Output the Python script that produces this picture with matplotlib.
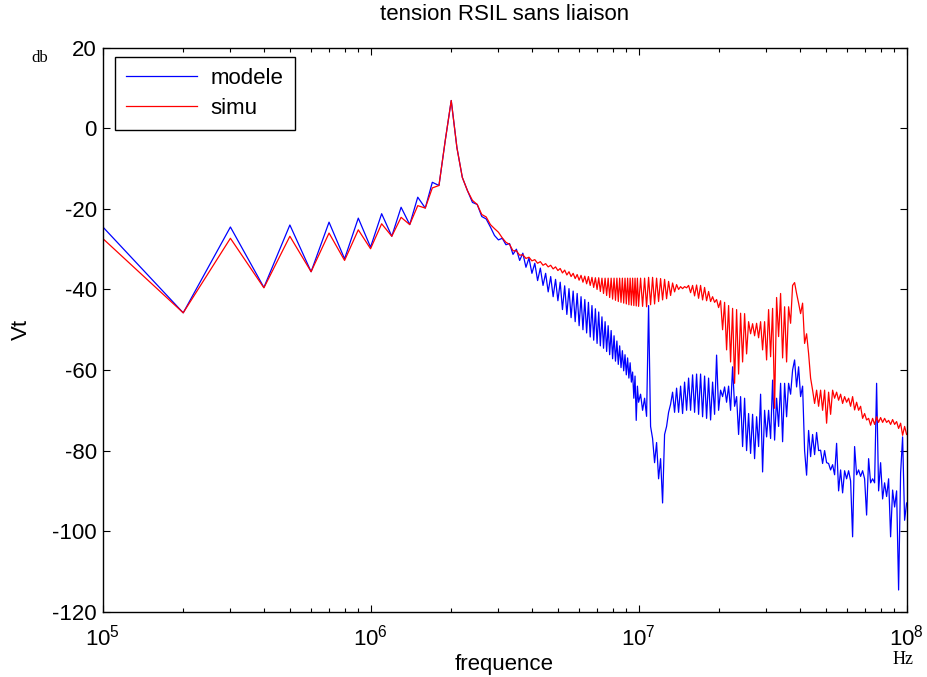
import matplotlib
matplotlib.use("Agg")
import matplotlib.pyplot as plt
import numpy as np

plt.rcParams["font.family"] = ["Liberation Sans", "DejaVu Sans"]
plt.rcParams["mathtext.fontset"] = "custom"
plt.rcParams["mathtext.rm"] = "Liberation Sans"
plt.rcParams["axes.unicode_minus"] = False

# frequency grid (Hz): 100 kHz steps up to 10 MHz, then log-spaced to 100 MHz
freq_low = np.arange(1, 31) * 1e5
freq_mid = np.arange(31, 101) * 1e5
freq_hf = np.logspace(7, 8, 135)[1:]

# levels in dB
modele_low = [-24.4, -45.8, -24.5, -39.5, -24.0, -35.6, -23.3, -32.4, -22.3, -29.5,
              -21.2, -26.8, -19.6, -23.9, -17.1, -19.8, -13.4, -14.2, -3.0, 6.9,
              -4.8, -12.2, -15.5, -18.4, -18.9, -21.9, -22.5, -24.5, -26.6, -27.7]
simu_low = [-27.3, -45.8, -27.3, -39.6, -26.8, -35.6, -26.0, -32.8, -25.2, -29.9,
            -23.7, -26.8, -22.1, -23.9, -19.2, -19.8, -14.8, -14.2, -3.0, 6.9,
            -4.8, -12.2, -15.5, -17.9, -18.9, -21.4, -22.0, -23.9, -24.9, -25.8]

modele_mid = [-27.3, -28.9, -28.6, -31.3, -30.0, -32.8, -31.0, -34.5, -32.2, -36.0,
              -33.5, -37.8, -34.7, -39.0, -36.0, -40.6, -36.8, -41.8, -37.5, -42.8,
              -38.2, -45.0, -39.1, -46.2, -39.8, -47.0, -40.4, -48.0, -41.0, -49.0,
              -41.8, -50.0, -42.5, -50.8, -43.2, -51.8, -44.0, -52.6, -44.8, -53.4,
              -45.6, -54.0, -46.8, -54.6, -48.0, -55.4, -49.0, -56.2, -50.2, -57.2,
              -51.5, -57.8, -52.8, -58.6, -54.0, -59.4, -55.2, -60.2, -56.2, -61.2,
              -57.0, -62.0, -58.2, -63.0, -60.5, -67.0, -61.5, -72.5, -64.0, -68.0]
simu_mid = [-27.2, -28.3, -28.8, -30.4, -30.4, -31.5, -31.4, -32.3, -32.0, -32.9,
            -32.6, -33.5, -33.1, -34.0, -33.6, -34.4, -34.0, -34.9, -34.4, -35.3,
            -34.8, -35.9, -35.2, -36.4, -35.6, -36.8, -36.0, -37.3, -36.3, -37.7,
            -36.5, -38.2, -36.7, -38.6, -36.8, -39.0, -37.0, -39.5, -37.1, -40.0,
            -37.1, -40.5, -37.2, -41.0, -37.2, -41.5, -37.2, -42.0, -37.2, -42.4,
            -37.2, -42.7, -37.2, -43.0, -37.2, -43.2, -37.2, -43.4, -37.2, -43.6,
            -37.2, -43.8, -37.2, -43.9, -37.2, -44.0, -37.2, -44.1, -37.2, -44.2]

modele_hf = [-66.0, -70.0, -67.0, -71.5, -44.0, -74.0, -77.0, -83.0, -78.0, -87.0,
             -82.0, -93.0, -76.0, -74.0, -70.5, -68.5, -65.5, -70.5, -64.5, -70.5,
             -64.0, -70.8, -63.0, -70.0, -62.0, -70.0, -61.2, -70.5, -61.0, -71.0,
             -61.0, -71.6, -61.5, -72.0, -62.0, -72.4, -63.0, -71.0, -56.3, -70.0,
             -65.0, -66.6, -64.2, -68.0, -64.0, -70.0, -59.2, -69.0, -66.6, -76.0,
             -66.6, -79.0, -67.0, -80.0, -70.8, -80.7, -71.0, -82.0, -71.6, -79.0,
             -66.0, -85.3, -70.0, -76.6, -70.0, -77.0, -62.5, -77.4, -67.0, -74.0,
             -63.3, -77.8, -63.3, -71.6, -63.3, -66.0, -60.0, -57.5, -64.2, -59.2,
             -66.6, -64.0, -80.0, -86.1, -75.0, -81.5, -76.0, -81.0, -75.5, -80.0,
             -79.9, -83.2, -80.0, -83.0, -83.2, -84.8, -83.5, -86.0, -78.2, -90.0,
             -84.8, -90.5, -85.0, -87.0, -85.0, -87.5, -101.4, -79.0, -86.0, -84.8,
             -86.4, -85.0, -87.0, -96.0, -82.0, -88.0, -87.0, -88.0, -63.3, -90.0,
             -83.0, -92.0, -88.0, -91.4, -87.0, -101.4, -89.8, -94.0, -90.0, -114.6,
             -85.6, -76.6, -97.3, -93.0]
simu_hf = [-37.2, -44.2, -37.2, -44.3, -37.0, -43.8, -37.0, -43.6, -37.2, -43.0,
           -37.3, -42.6, -37.5, -42.3, -38.0, -41.5, -38.4, -40.6, -38.8, -40.0,
           -39.3, -39.8, -39.3, -39.6, -39.0, -40.8, -39.0, -41.6, -38.9, -42.2,
           -39.0, -42.6, -39.5, -42.8, -40.5, -43.0, -41.8, -43.2, -42.5, -44.5,
           -42.8, -50.0, -43.2, -55.0, -44.0, -58.0, -44.7, -63.3, -45.0, -61.0,
           -45.9, -58.0, -46.0, -56.0, -48.0, -51.0, -48.5, -51.5, -48.4, -52.0,
           -48.0, -55.0, -48.0, -57.5, -45.0, -56.7, -44.7, -69.5, -42.0, -51.7,
           -41.0, -57.0, -44.3, -58.0, -44.3, -48.4, -39.0, -38.3, -41.0, -43.4,
           -46.0, -43.4, -53.4, -51.0, -55.9, -62.0, -65.0, -68.3, -65.0, -69.0,
           -65.0, -70.0, -65.0, -73.2, -65.5, -71.0, -65.0, -67.0, -65.5, -67.5,
           -66.0, -68.3, -66.6, -68.0, -67.0, -69.0, -66.6, -69.9, -68.0, -70.0,
           -69.0, -72.0, -70.8, -72.4, -72.0, -73.7, -72.0, -73.5, -71.6, -73.0,
           -71.8, -73.0, -72.0, -73.0, -72.5, -73.5, -72.3, -73.5, -72.8, -74.5,
           -73.2, -76.2, -74.0, -76.0]

freq = np.concatenate([freq_low, freq_mid, freq_hf])
modele = np.concatenate([modele_low, modele_mid, modele_hf])
simu = np.concatenate([simu_low, simu_mid, simu_hf])

fig = plt.figure(figsize=(9.27, 6.77), dpi=100)
ax = fig.add_axes([0.1106, 0.0964, 0.8674, 0.8331])

ax.semilogx(freq, modele, color="#0000ff", linewidth=0.9, label="modele")
ax.semilogx(freq, simu, color="#ff0000", linewidth=0.9, label="simu")

ax.set_xlim(1e5, 1e8)
ax.set_ylim(-120, 20)
ax.set_yticks(np.arange(-120, 21, 20))

ax.tick_params(which="both", direction="in", top=True, right=True, labelsize=16)
ax.tick_params(which="major", length=5, width=0.8)
ax.tick_params(which="minor", length=3, width=0.8)
ax.tick_params(axis="x", which="major", pad=9)
ax.tick_params(axis="y", which="major", pad=4)
for s in ax.spines.values():
    s.set_linewidth(1.0)

ax.set_title("tension RSIL sans liaison", fontsize=16, pad=20)
ax.set_xlabel("frequence", fontsize=16, labelpad=3)
ax.set_ylabel("Vt", fontsize=16, labelpad=15)

leg = ax.legend(loc="upper left", bbox_to_anchor=(0.0155, 0.984), fontsize=16,
                fancybox=False, edgecolor="black", framealpha=1, handlelength=3.2,
                handletextpad=0.6, borderpad=0.5, labelspacing=0.4, borderaxespad=0)
leg.get_frame().set_linewidth(1.0)

fig.text(40 / 927, 1 - 58 / 677, "db", family=["Liberation Serif", "DejaVu Serif"],
         fontsize=12, ha="center", va="center")
fig.text(903 / 927, 1 - 660 / 677, "Hz", family=["Liberation Serif", "DejaVu Serif"],
         fontsize=13, ha="center", va="center")

fig.savefig("out.png", dpi=100)
